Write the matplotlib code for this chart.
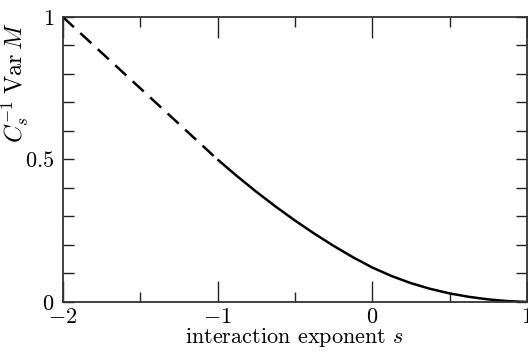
import numpy as np
import matplotlib
matplotlib.use("Agg")
import matplotlib.pyplot as plt
from matplotlib.ticker import MultipleLocator, FixedLocator

plt.rcParams["font.family"] = "serif"
plt.rcParams["font.serif"] = ["cmr10"]
plt.rcParams["mathtext.fontset"] = "cm"
plt.rcParams["axes.formatter.use_mathtext"] = True

# dashed part (s <= -1)
s_dash = [-2.0, -1.5, -1.0]
v_dash = [1.0, 0.75, 0.5]

# solid part (s >= -1)
s_solid = [-1.0, -0.875, -0.75, -0.625, -0.5, -0.375, -0.25, -0.125, 0.0,
           0.125, 0.25, 0.375, 0.5, 0.625, 0.75, 0.875, 1.0]
v_solid = [0.500, 0.442, 0.387, 0.335, 0.286, 0.240, 0.197, 0.157, 0.121,
           0.091, 0.066, 0.046, 0.030, 0.018, 0.009, 0.003, 0.0]

x_ticks = [-2, -1, 0, 1]
x_labels = ["$-2$", "$-1$", "$0$", "$1$"]
y_ticks = [0, 0.5, 1]
y_labels = ["$0$", "$0.5$", "$1$"]

fig = plt.figure(figsize=(5.28, 3.54), dpi=100)
ax = fig.add_axes([0.119, 0.147, 0.879, 0.805])

ax.plot(s_dash, v_dash, color="black", lw=1.8, dashes=(6, 3.5))
ax.plot(s_solid, v_solid, color="black", lw=1.8, solid_capstyle="butt",
        solid_joinstyle="round")

ax.set_xlim(-2, 1)
ax.set_ylim(0, 1)

ax.set_xticks(x_ticks)
ax.set_xticklabels(x_labels)
ax.xaxis.set_minor_locator(MultipleLocator(0.5))
ax.set_yticks(y_ticks)
ax.set_yticklabels(y_labels)
ax.yaxis.set_minor_locator(FixedLocator([0.1, 0.2, 0.3, 0.4, 0.6, 0.7, 0.8, 0.9]))

ax.tick_params(axis="both", which="both", direction="in", top=True, right=True,
               labelsize=16, color="#222222", width=1.0)
ax.tick_params(axis="x", which="major", length=15, pad=4)
ax.tick_params(axis="x", which="minor", length=7.5)
ax.tick_params(axis="y", which="major", length=8, pad=6)
ax.tick_params(axis="y", which="minor", length=8)

for sp in ax.spines.values():
    sp.set_linewidth(1.3)
    sp.set_color("#333333")

ax.set_xlabel("interaction exponent $s$", fontsize=16, labelpad=-1)
ax.set_ylabel(r"$C_s^{-1}\;\mathrm{Var}\,M$", fontsize=17.5)
ax.yaxis.set_label_coords(-0.068, 0.77)

fig.savefig("out.png", dpi=100)
